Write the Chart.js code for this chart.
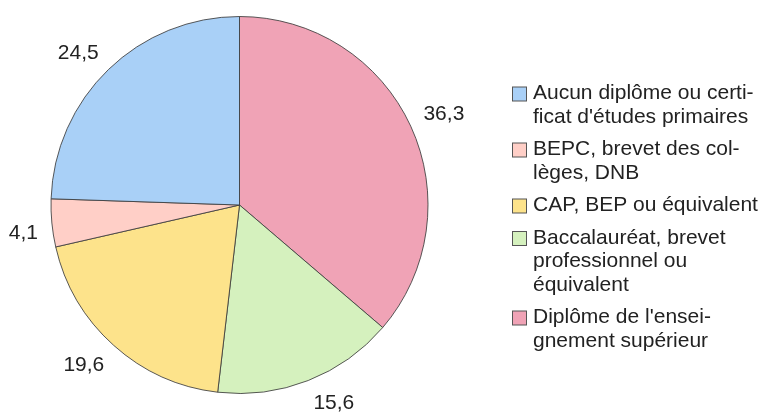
<!DOCTYPE html>
<html>
<head>
<meta charset="utf-8">
<script src="https://cdn.jsdelivr.net/npm/chart.js@4/dist/chart.umd.min.js"></script>
<style>
  html, body { margin: 0; padding: 0; background: #ffffff; }
  #wrap { width: 768px; height: 412px; }
</style>
</head>
<body>
<div id="wrap"><canvas id="c" width="768" height="412"></canvas></div>
<script>
// Categories in legend order (each as its wrapped lines)
const categories = [
  ["Aucun diplôme ou certi-", "ficat d'études primaires"],
  ["BEPC, brevet des col-", "lèges, DNB"],
  ["CAP, BEP ou équivalent"],
  ["Baccalauréat, brevet", "professionnel ou", "équivalent"],
  ["Diplôme de l'ensei-", "gnement supérieur"]
];
// Percentages, legend order
const values = [24.5, 4.1, 19.6, 15.6, 36.3];
// Value labels as displayed
const valueLabels = ["24,5", "4,1", "19,6", "15,6", "36,3"];
const colors = ["#a9d0f7", "#ffcfc7", "#fde38b", "#d5f1be", "#f0a3b6"];

// The pie runs clockwise from 12 o'clock in the reverse of the legend order
const order = values.map((v, i) => i).reverse();

const FONT = "'Liberation Sans', Arial, sans-serif";

const valueLabelPlugin = {
  id: 'valueLabels',
  afterDatasetsDraw(chart) {
    const ctx = chart.ctx;
    const meta = chart.getDatasetMeta(0);
    ctx.save();
    ctx.font = "21px " + FONT;
    ctx.fillStyle = "#222222";
    const capH = 15;
    meta.data.forEach((arc, i) => {
      const mid = (arc.startAngle + arc.endAngle) / 2;
      const d = arc.outerRadius + 14;
      const px = arc.x + Math.cos(mid) * d;
      const py = arc.y + Math.sin(mid) * d;
      const text = chart.data.datasets[0].labelsText[i];
      ctx.textAlign = Math.cos(mid) >= 0 ? 'left' : 'right';
      ctx.textBaseline = 'alphabetic';
      const by = Math.sin(mid) < 0 ? py : py + capH;
      ctx.fillText(text, px, by);
    });
    ctx.restore();
  }
};

const legendPlugin = {
  id: 'sideLegend',
  afterDraw(chart) {
    const ctx = chart.ctx;
    ctx.save();
    ctx.font = "21px " + FONT;
    ctx.textBaseline = 'middle';
    ctx.textAlign = 'left';
    const boxX = 512, textX = 533, box = 14;
    const lineH = 23.5, gap = 9;
    let y = 93.5;
    categories.forEach((lines, i) => {
      ctx.fillStyle = colors[i];
      ctx.fillRect(boxX + 0.5, y - box / 2 + 0.5, box, box);
      ctx.strokeStyle = "#555555";
      ctx.lineWidth = 1;
      ctx.strokeRect(boxX + 0.5, y - box / 2 + 0.5, box, box);
      ctx.fillStyle = "#222222";
      lines.forEach((ln, k) => {
        ctx.fillText(ln, textX, y + k * lineH);
      });
      y += lines.length * lineH + gap;
    });
    ctx.restore();
  }
};

new Chart(document.getElementById('c'), {
  type: 'pie',
  data: {
    labels: order.map(i => categories[i].join(' ')),
    datasets: [{
      data: order.map(i => values[i]),
      labelsText: order.map(i => valueLabels[i]),
      backgroundColor: order.map(i => colors[i]),
      borderColor: "rgba(60,60,60,0.85)",
      borderWidth: 1
    }]
  },
  options: {
    responsive: false,
    devicePixelRatio: 1,
    animation: false,
    layout: { padding: { left: 50, right: 339, top: 16, bottom: 18 } },
    plugins: {
      legend: { display: false },
      tooltip: { enabled: false },
      title: { display: false }
    }
  },
  plugins: [valueLabelPlugin, legendPlugin]
});
</script>
</body>
</html>
